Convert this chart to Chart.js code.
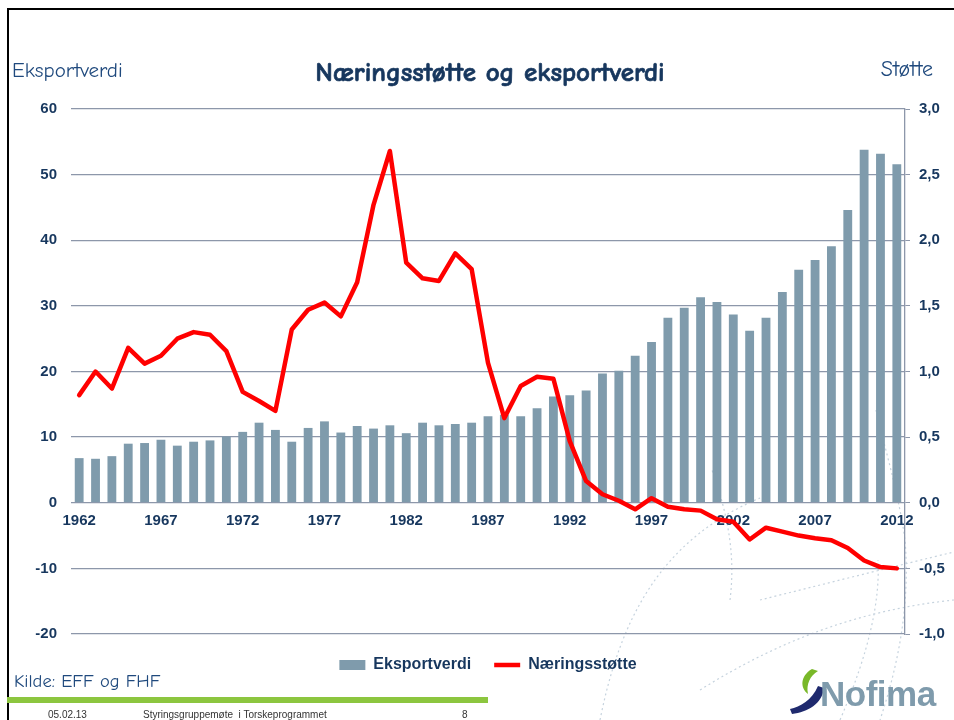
<!DOCTYPE html>
<html>
<head>
<meta charset="utf-8">
<script src="https://cdn.jsdelivr.net/npm/chart.js@4"></script>
<style>
  html, body { margin: 0; padding: 0; background: #fff; }
  body { width: 954px; height: 720px; position: relative; overflow: hidden; font-family: "Liberation Sans", Arial, sans-serif; }
  .abs { position: absolute; white-space: nowrap; }
  .comic { font-family: "Comic Sans MS", "Comic Neue", "Lato", sans-serif; color: #1f497d; }
  #chartWrap { position: absolute; left: 0; top: 0; width: 954px; height: 720px; }
</style>
</head>
<body>
<svg class="abs" style="left:0;top:0" width="954" height="720">
  <g fill="none" stroke="#c6d3de" stroke-width="1.2" stroke-dasharray="2 3">
    <path d="M600 720 C 620 620, 660 540, 760 498"/>
    <path d="M730 600 C 735 560, 730 520, 712 470"/>
    <path d="M876 410 C 885 450, 898 490, 905 540 C 910 600, 900 660, 880 720"/>
    <path d="M840 720 C 870 650, 880 600, 878 560"/>
    <path d="M760 600 C 820 585, 900 565, 954 552"/>
    <path d="M700 690 C 780 640, 860 610, 954 600"/>
  </g>
  <!-- logo swoosh -->
  <path d="M818 686 C 812 700, 800 707, 790 709 L 792 714 C 808 712, 822 704, 824 688 Z" fill="#1f2a6e"/>
  <path d="M812 669 C 800 676, 800 688, 808 694 C 806 684, 810 676, 818 671 Z" fill="#79b829"/>
</svg>
<div class="abs" style="left:7px;top:8px;width:2px;height:712px;background:#000"></div>
<div class="abs" style="left:7px;top:8px;width:947px;height:2px;background:#000"></div>
<div id="chartWrap"><canvas id="chart" width="954" height="720"></canvas></div>
<div class="abs comic" style="left:12px;top:58px;font-size:21px;">Eksportverdi</div>
<div class="abs comic" style="right:21px;top:56px;font-size:22px;">Støtte</div>
<div class="abs comic" style="left:240px;width:500px;text-align:center;top:57px;font-size:27px;font-weight:bold;color:#17375e;-webkit-text-stroke:0.7px #17375e;">Næringsstøtte og eksportverdi</div>
<div class="abs comic" style="left:14px;top:670px;font-size:18.5px;">Kilde: EFF og FHF</div>
<div class="abs" style="left:7px;top:697px;width:481px;height:6px;background:#8cc63f"></div>
<div class="abs" style="left:48px;top:709px;font-size:10px;color:#333;">05.02.13</div>
<div class="abs" style="left:143px;top:709px;font-size:10px;color:#333;">Styringsgruppemøte&nbsp; i Torskeprogrammet</div>
<div class="abs" style="left:462px;top:709px;font-size:10px;color:#333;">8</div>
<div class="abs" style="left:820px;top:674px;font-size:35px;font-weight:bold;color:#7f9bac;letter-spacing:-0.5px;">Nofima</div>
<script>
const years = [
  '1962', '1963', '1964', '1965', '1966', '1967', '1968', '1969', '1970', '1971',
  '1972', '1973', '1974', '1975', '1976', '1977', '1978', '1979', '1980', '1981',
  '1982', '1983', '1984', '1985', '1986', '1987', '1988', '1989', '1990', '1991',
  '1992', '1993', '1994', '1995', '1996', '1997', '1998', '1999', '2000', '2001',
  '2002', '2003', '2004', '2005', '2006', '2007', '2008', '2009', '2010', '2011',
  '2012'
];

// Eksportverdi (left axis)
const eksportverdi = [
  6.8, 6.7, 7.1, 9.0, 9.1, 9.6, 8.7, 9.3, 9.5, 10.1,
  10.8, 12.2, 11.1, 9.3, 11.4, 12.4, 10.7, 11.7, 11.3, 11.8,
  10.6, 12.2, 11.8, 12.0, 12.2, 13.2, 13.4, 13.2, 14.4, 16.2,
  16.4, 17.1, 19.7, 20.1, 22.4, 24.5, 28.2, 29.7, 31.3, 30.6,
  28.7, 26.2, 28.2, 32.1, 35.5, 37.0, 39.1, 44.6, 53.8, 53.2,
  51.6
];

// Næringsstøtte (right axis)
const naeringsstotte = [
  0.82, 1.0, 0.87, 1.18, 1.06, 1.12, 1.25, 1.30, 1.28, 1.155,
  0.845, 0.775, 0.70, 1.32, 1.47, 1.525, 1.42, 1.68, 2.27, 2.68,
  1.83, 1.71, 1.69, 1.90, 1.78, 1.065, 0.645, 0.89, 0.96, 0.945,
  0.47, 0.165, 0.065, 0.015, -0.05, 0.035, -0.03, -0.05, -0.06, -0.125,
  -0.145, -0.28, -0.19, -0.22, -0.25, -0.27, -0.285, -0.345, -0.44, -0.49,
  -0.5
];

const shownYears = ['1962', '1967', '1972', '1977', '1982', '1987', '1992', '1997', '2002', '2007', '2012'];

const navy = '#17375e';
const gridColor = '#8d97aa';
const tickFont = { family: '"Liberation Sans", Arial, sans-serif', size: 15, weight: 'bold' };

new Chart(document.getElementById('chart').getContext('2d'), {
  type: 'bar',
  data: {
    labels: years,
    datasets: [
      {
        label: 'Eksportverdi',
        data: eksportverdi,
        backgroundColor: '#7f9bac',
        borderWidth: 0,
        yAxisID: 'y',
        categoryPercentage: 1.0,
        barPercentage: 0.54,
        order: 1,
        pointStyle: 'rect'
      },
      {
        type: 'line',
        label: 'Næringsstøtte',
        data: naeringsstotte,
        borderColor: '#ff0000',
        backgroundColor: '#ff0000',
        borderWidth: 4.5,
        pointRadius: 0,
        tension: 0,
        borderJoinStyle: 'round',
        borderCapStyle: 'round',
        yAxisID: 'y1',
        order: 0,
        pointStyle: 'line'
      }
    ]
  },
  options: {
    responsive: false,
    animation: false,
    layout: { padding: { left: 0, right: 0, top: 109, bottom: 37 } },
    plugins: {
      tooltip: { enabled: false },
      legend: {
        position: 'bottom',
        fullSize: false,
        labels: {
          usePointStyle: true,
          pointStyleWidth: 26,
          boxHeight: 10,
          padding: 23,
          color: navy,
          font: { family: '"Liberation Sans", Arial, sans-serif', size: 16, weight: 'bold' },
          sort: (a, b) => a.datasetIndex - b.datasetIndex
        }
      }
    },
    scales: {
      x: {
        position: { y: 0 },
        grid: { display: false, drawTicks: false },
        border: { display: false },
        ticks: {
          autoSkip: false,
          maxRotation: 0,
          padding: 9,
          color: navy,
          font: tickFont,
          callback: (val, i) => shownYears.includes(years[i]) ? years[i] : ''
        },
        afterFit: scale => { scale.height = 0; }
      },
      y: {
        position: 'left',
        min: -20,
        max: 60,
        ticks: { stepSize: 10, padding: 14, color: navy, font: tickFont },
        grid: { color: gridColor, lineWidth: 1.3, drawTicks: false },
        border: { display: false },
        afterFit: scale => { scale.width = 71; }
      },
      y1: {
        position: 'right',
        min: -1,
        max: 3,
        ticks: {
          stepSize: 0.5,
          padding: 9,
          color: navy,
          font: tickFont,
          callback: v => v.toFixed(1).replace('.', ',')
        },
        grid: { drawOnChartArea: false, drawTicks: true, tickLength: 5, color: gridColor },
        border: { display: true, color: gridColor, width: 1.3 },
        afterFit: scale => { scale.width = 49; }
      }
    }
  }
});
</script>
</body>
</html>
